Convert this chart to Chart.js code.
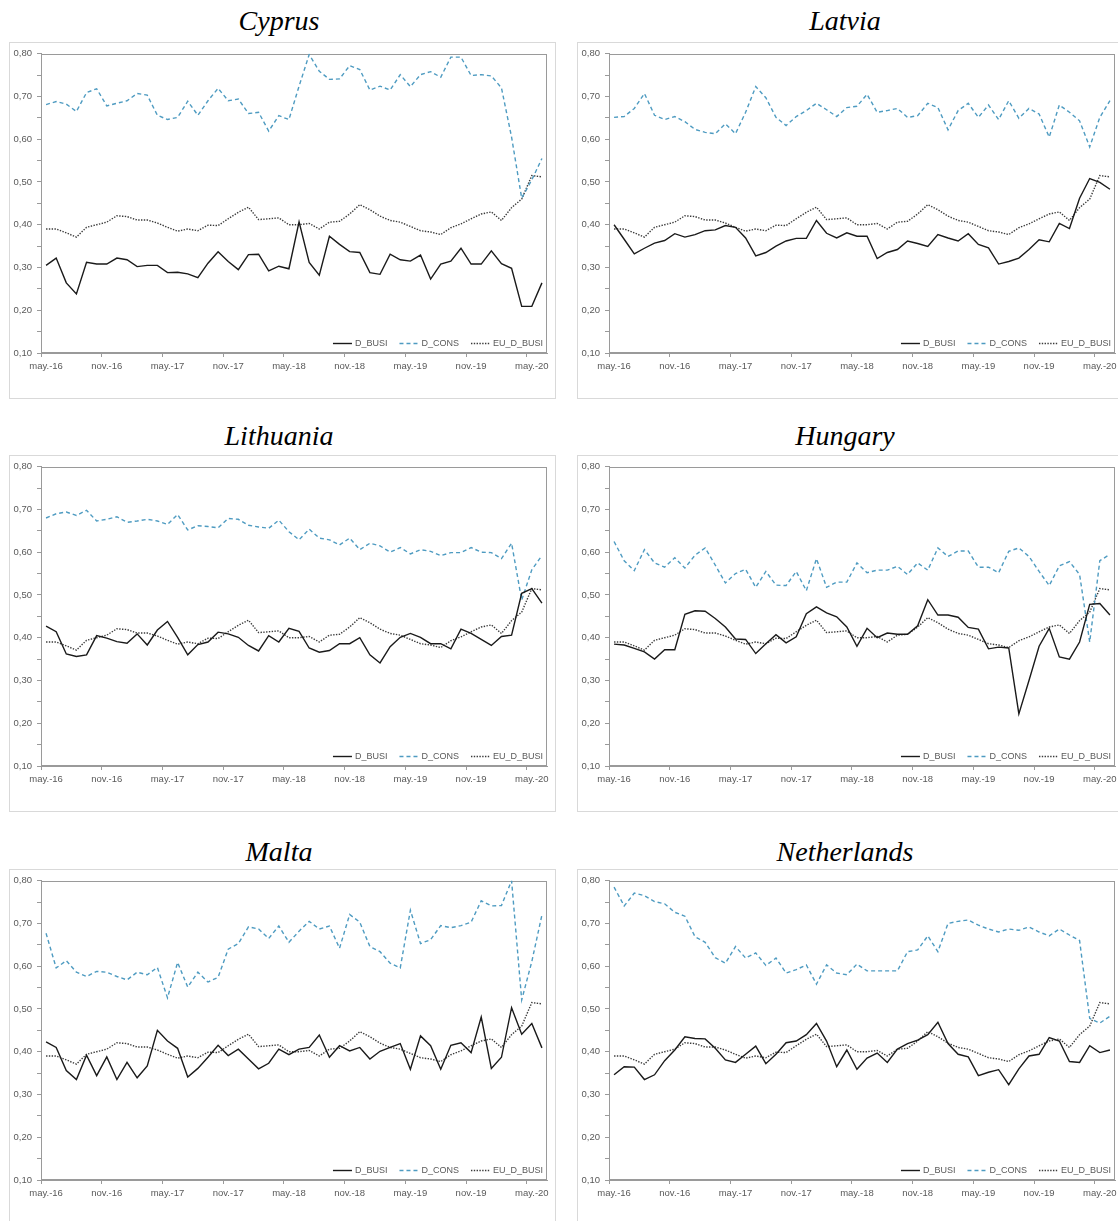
<!DOCTYPE html>
<html>
<head>
<meta charset="utf-8">
<title>D_BUSI / D_CONS</title>
<script src="https://cdn.jsdelivr.net/npm/chart.js@4.4.1/dist/chart.umd.min.js"></script>
<style>
  html, body { margin: 0; padding: 0; background: #fff; }
  body { width: 1118px; height: 1221px; position: relative; overflow: hidden; }
  .title {
    position: absolute; width: 560px; text-align: center;
    font-family: "Liberation Serif", "Times New Roman", serif;
    font-style: italic; font-size: 28px; line-height: 28px; color: #000;
  }
  .box { position: absolute; width: 545px; height: 355px; border: 1px solid #d9d9d9; background: #fff; }
  .box canvas { display: block; }
</style>
</head>
<body>
<script>
// Monthly categories, May 2016 - June 2020
var months = [
  'may.-16', 'jun.-16', 'jul.-16', 'ago.-16', 'sep.-16', 'oct.-16', 'nov.-16', 'dic.-16',
  'ene.-17', 'feb.-17', 'mar.-17', 'abr.-17', 'may.-17', 'jun.-17', 'jul.-17', 'ago.-17', 'sep.-17', 'oct.-17', 'nov.-17', 'dic.-17',
  'ene.-18', 'feb.-18', 'mar.-18', 'abr.-18', 'may.-18', 'jun.-18', 'jul.-18', 'ago.-18', 'sep.-18', 'oct.-18', 'nov.-18', 'dic.-18',
  'ene.-19', 'feb.-19', 'mar.-19', 'abr.-19', 'may.-19', 'jun.-19', 'jul.-19', 'ago.-19', 'sep.-19', 'oct.-19', 'nov.-19', 'dic.-19',
  'ene.-20', 'feb.-20', 'mar.-20', 'abr.-20', 'may.-20', 'jun.-20'
];

// EU average, same in every panel
var euBusi = [0.390, 0.390, 0.381, 0.371, 0.394, 0.400, 0.406, 0.421, 0.419, 0.411,
  0.411, 0.404, 0.394, 0.385, 0.390, 0.386, 0.399, 0.398, 0.414, 0.429,
  0.441, 0.412, 0.414, 0.416, 0.400, 0.400, 0.403, 0.390, 0.406, 0.408,
  0.425, 0.447, 0.435, 0.420, 0.410, 0.406, 0.396, 0.386, 0.383, 0.377,
  0.393, 0.402, 0.414, 0.425, 0.430, 0.410, 0.440, 0.460, 0.515, 0.512];

var cyprusBusi = [0.305, 0.322, 0.264, 0.238, 0.312, 0.308, 0.308, 0.322, 0.318, 0.302,
  0.305, 0.305, 0.288, 0.289, 0.285, 0.276, 0.310, 0.337, 0.314, 0.295,
  0.330, 0.331, 0.292, 0.303, 0.297, 0.407, 0.312, 0.282, 0.373, 0.354,
  0.337, 0.335, 0.288, 0.284, 0.331, 0.318, 0.315, 0.329, 0.273, 0.308,
  0.315, 0.345, 0.308, 0.308, 0.339, 0.309, 0.298, 0.209, 0.209, 0.264];
var cyprusCons = [0.681, 0.688, 0.682, 0.665, 0.709, 0.718, 0.678, 0.684, 0.690, 0.707,
  0.703, 0.656, 0.646, 0.651, 0.689, 0.656, 0.690, 0.719, 0.690, 0.694,
  0.660, 0.663, 0.619, 0.655, 0.646, 0.724, 0.798, 0.759, 0.740, 0.741,
  0.772, 0.763, 0.715, 0.724, 0.715, 0.751, 0.723, 0.751, 0.758, 0.745,
  0.792, 0.792, 0.749, 0.751, 0.748, 0.720, 0.605, 0.462, 0.505, 0.555];

var latviaBusi = [0.400, 0.366, 0.332, 0.345, 0.357, 0.363, 0.379, 0.371, 0.377, 0.386,
  0.388, 0.398, 0.394, 0.369, 0.327, 0.335, 0.350, 0.362, 0.368, 0.368,
  0.410, 0.380, 0.369, 0.381, 0.373, 0.373, 0.321, 0.335, 0.342, 0.362,
  0.356, 0.349, 0.377, 0.369, 0.362, 0.379, 0.354, 0.346, 0.308, 0.314,
  0.322, 0.342, 0.365, 0.360, 0.403, 0.391, 0.462, 0.508, 0.499, 0.483];
var latviaCons = [0.651, 0.653, 0.672, 0.707, 0.656, 0.646, 0.653, 0.641, 0.623, 0.616,
  0.613, 0.636, 0.613, 0.663, 0.723, 0.697, 0.651, 0.632, 0.653, 0.667,
  0.684, 0.669, 0.653, 0.674, 0.677, 0.705, 0.663, 0.667, 0.672, 0.651,
  0.655, 0.684, 0.674, 0.622, 0.667, 0.684, 0.651, 0.680, 0.646, 0.690,
  0.649, 0.672, 0.659, 0.605, 0.680, 0.663, 0.643, 0.582, 0.651, 0.690];

var lithuaniaBusi = [0.427, 0.414, 0.362, 0.356, 0.360, 0.405, 0.399, 0.391, 0.387, 0.409,
  0.383, 0.418, 0.438, 0.401, 0.360, 0.384, 0.390, 0.413, 0.409, 0.401,
  0.382, 0.369, 0.405, 0.390, 0.422, 0.415, 0.376, 0.366, 0.370, 0.386,
  0.386, 0.400, 0.360, 0.341, 0.379, 0.401, 0.410, 0.401, 0.386, 0.386,
  0.374, 0.420, 0.410, 0.396, 0.382, 0.403, 0.406, 0.504, 0.515, 0.481];
var lithuaniaCons = [0.680, 0.690, 0.694, 0.686, 0.698, 0.673, 0.677, 0.683, 0.670, 0.673,
  0.677, 0.673, 0.665, 0.688, 0.652, 0.662, 0.660, 0.657, 0.679, 0.677,
  0.663, 0.659, 0.656, 0.675, 0.648, 0.629, 0.654, 0.633, 0.629, 0.617,
  0.633, 0.606, 0.621, 0.615, 0.600, 0.611, 0.596, 0.606, 0.602, 0.592,
  0.599, 0.599, 0.611, 0.600, 0.599, 0.585, 0.621, 0.488, 0.559, 0.592];

var hungaryBusi = [0.385, 0.383, 0.375, 0.367, 0.350, 0.372, 0.372, 0.455, 0.463, 0.462,
  0.445, 0.425, 0.397, 0.396, 0.363, 0.386, 0.407, 0.388, 0.402, 0.456,
  0.472, 0.458, 0.449, 0.425, 0.380, 0.422, 0.400, 0.411, 0.408, 0.408,
  0.428, 0.489, 0.453, 0.453, 0.448, 0.424, 0.420, 0.374, 0.378, 0.376,
  0.222, 0.300, 0.380, 0.422, 0.355, 0.350, 0.390, 0.478, 0.480, 0.453];
var hungaryCons = [0.625, 0.580, 0.557, 0.606, 0.575, 0.565, 0.587, 0.563, 0.593, 0.610,
  0.570, 0.528, 0.550, 0.560, 0.518, 0.555, 0.523, 0.522, 0.555, 0.510,
  0.585, 0.518, 0.530, 0.530, 0.575, 0.552, 0.558, 0.558, 0.567, 0.548,
  0.575, 0.558, 0.610, 0.590, 0.603, 0.603, 0.565, 0.565, 0.552, 0.602,
  0.610, 0.590, 0.555, 0.522, 0.568, 0.578, 0.548, 0.390, 0.580, 0.595];

var maltaBusi = [0.423, 0.410, 0.356, 0.335, 0.392, 0.344, 0.388, 0.335, 0.375, 0.339,
  0.367, 0.450, 0.425, 0.408, 0.341, 0.361, 0.387, 0.415, 0.391, 0.406,
  0.383, 0.360, 0.373, 0.406, 0.393, 0.406, 0.410, 0.439, 0.387, 0.414,
  0.402, 0.410, 0.383, 0.401, 0.410, 0.419, 0.359, 0.437, 0.414, 0.359,
  0.415, 0.421, 0.398, 0.481, 0.361, 0.387, 0.503, 0.441, 0.466, 0.409];
var maltaCons = [0.677, 0.596, 0.613, 0.586, 0.576, 0.588, 0.586, 0.576, 0.568, 0.586,
  0.580, 0.597, 0.526, 0.609, 0.551, 0.586, 0.563, 0.574, 0.640, 0.653,
  0.692, 0.687, 0.665, 0.694, 0.656, 0.682, 0.705, 0.687, 0.694, 0.642,
  0.721, 0.703, 0.646, 0.634, 0.607, 0.596, 0.731, 0.653, 0.662, 0.695,
  0.690, 0.695, 0.703, 0.753, 0.741, 0.742, 0.800, 0.521, 0.611, 0.720];

var netherlandsBusi = [0.346, 0.365, 0.364, 0.335, 0.346, 0.379, 0.404, 0.435, 0.431, 0.430,
  0.408, 0.381, 0.375, 0.394, 0.413, 0.372, 0.394, 0.421, 0.425, 0.440,
  0.466, 0.425, 0.365, 0.404, 0.359, 0.385, 0.397, 0.375, 0.406, 0.419,
  0.427, 0.440, 0.469, 0.419, 0.394, 0.388, 0.344, 0.352, 0.358, 0.323,
  0.360, 0.390, 0.394, 0.433, 0.425, 0.377, 0.375, 0.414, 0.398, 0.404];
var netherlandsCons = [0.785, 0.741, 0.771, 0.765, 0.751, 0.746, 0.726, 0.717, 0.669, 0.656,
  0.620, 0.607, 0.646, 0.619, 0.631, 0.602, 0.619, 0.584, 0.592, 0.603,
  0.558, 0.603, 0.584, 0.580, 0.605, 0.589, 0.589, 0.589, 0.589, 0.634,
  0.638, 0.671, 0.634, 0.700, 0.705, 0.708, 0.696, 0.687, 0.680, 0.687,
  0.684, 0.692, 0.680, 0.671, 0.687, 0.673, 0.660, 0.478, 0.467, 0.483];

var countries = ['Cyprus', 'Latvia', 'Lithuania', 'Hungary', 'Malta', 'Netherlands'];
var busiSeries = [cyprusBusi, latviaBusi, lithuaniaBusi, hungaryBusi, maltaBusi, netherlandsBusi];
var consSeries = [cyprusCons, latviaCons, lithuaniaCons, hungaryCons, maltaCons, netherlandsCons];

// Page layout (2 columns x 3 rows)
var colLeft = [9, 577];
var titleCenter = [279, 845];
var rowTop = [42, 455, 869];
var titleBaseline = [30, 445, 861];

var axisColor = '#9a9a9a';
var textColor = '#595959';

Chart.defaults.font.family = '"Liberation Sans", Arial, sans-serif';
Chart.defaults.font.size = 9.5;
Chart.defaults.color = textColor;

// Grey frame round the plot area
var framePlugin = {
  id: 'frame',
  beforeDatasetsDraw: function(chart) {
    var a = chart.chartArea;
    var ctx = chart.ctx;
    ctx.save();
    ctx.strokeStyle = axisColor;
    ctx.lineWidth = 1;
    ctx.strokeRect(Math.round(a.left) + 0.5, Math.round(a.top) + 0.5,
      Math.round(a.right - a.left) - 1, Math.round(a.bottom - a.top) - 1);
    ctx.restore();
  }
};

// Legend drawn inside the plot area, bottom right
var insideLegend = {
  id: 'insideLegend',
  afterDraw: function(chart) {
    var a = chart.chartArea;
    var ctx = chart.ctx;
    var sets = chart.data.datasets;
    var y = Math.round(a.bottom - 10) + 0.5;
    var x = a.right - 4;
    ctx.save();
    ctx.font = '9px "Liberation Sans", Arial, sans-serif';
    ctx.textBaseline = 'middle';
    for (var i = sets.length - 1; i >= 0; i--) {
      var ds = sets[i];
      x -= ctx.measureText(ds.label).width;
      ctx.fillStyle = textColor;
      ctx.fillText(ds.label, x, y);
      x -= 3;
      ctx.beginPath();
      ctx.setLineDash(ds.borderDash || []);
      ctx.strokeStyle = ds.borderColor;
      ctx.lineWidth = ds.borderWidth;
      ctx.moveTo(x - 19, y);
      ctx.lineTo(x, y);
      ctx.stroke();
      x -= 19 + 12;
    }
    ctx.restore();
  }
};

function makePanel(k) {
  var col = k % 2;
  var row = Math.floor(k / 2);

  var title = document.createElement('div');
  title.className = 'title';
  title.style.left = (titleCenter[col] - 280) + 'px';
  title.style.top = (titleBaseline[row] - 23) + 'px';
  title.textContent = countries[k];
  document.body.appendChild(title);

  var box = document.createElement('div');
  box.className = 'box';
  box.style.left = colLeft[col] + 'px';
  box.style.top = rowTop[row] + 'px';
  var canvas = document.createElement('canvas');
  canvas.width = 545;
  canvas.height = 355;
  box.appendChild(canvas);
  document.body.appendChild(box);

  new Chart(canvas.getContext('2d'), {
    type: 'line',
    data: {
      labels: months,
      datasets: [
        { label: 'D_BUSI', data: busiSeries[k], borderColor: '#1a1a1a', borderWidth: 1.4, borderDash: [] },
        { label: 'D_CONS', data: consSeries[k], borderColor: '#4e9bc1', borderWidth: 1.4, borderDash: [4, 3] },
        { label: 'EU_D_BUSI', data: euBusi, borderColor: '#3a3a3a', borderWidth: 1.4, borderDash: [1.4, 1.4] }
      ]
    },
    options: {
      responsive: false,
      devicePixelRatio: 1,
      animation: false,
      layout: { padding: { top: 8, right: 8, left: 0, bottom: 0 } },
      elements: {
        point: { radius: 0, hoverRadius: 0 },
        line: { tension: 0, borderCapStyle: 'butt', fill: false }
      },
      plugins: {
        legend: { display: false },
        tooltip: { enabled: false }
      },
      scales: {
        x: {
          offset: true,
          grid: {
            offset: true,
            drawOnChartArea: false,
            tickLength: 4,
            color: function(c) { return c.index % 6 === 0 ? axisColor : 'rgba(0,0,0,0)'; }
          },
          border: { color: axisColor },
          ticks: {
            autoSkip: false,
            maxRotation: 0,
            padding: 4,
            callback: function(v, i) { return i % 6 === 0 ? months[i] : ''; }
          },
          afterFit: function(s) { s.height = 45; }
        },
        y: {
          min: 0.10,
          max: 0.80,
          grid: { drawOnChartArea: false, tickLength: 4, color: axisColor },
          border: { color: axisColor },
          ticks: {
            stepSize: 0.05,
            maxTicksLimit: 20,
            autoSkip: false,
            padding: 5,
            callback: function(v) {
              var n = Math.round(v * 100);
              return n % 10 === 0 ? (n / 100).toFixed(2).replace('.', ',') : '';
            }
          },
          afterFit: function(s) { s.width = 31; }
        }
      }
    },
    plugins: [framePlugin, insideLegend]
  });
}

for (var k = 0; k < countries.length; k++) {
  makePanel(k);
}
</script>
</body>
</html>
